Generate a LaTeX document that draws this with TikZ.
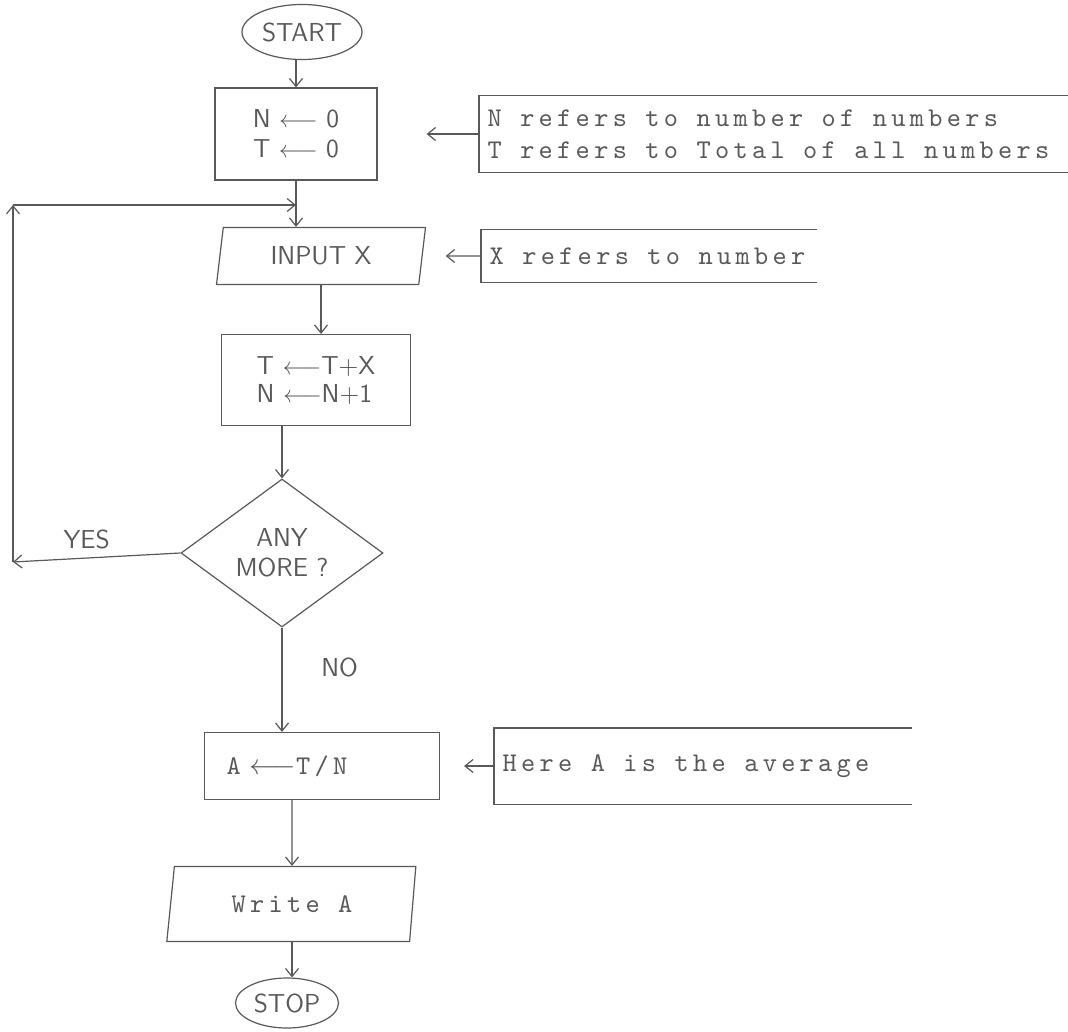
\documentclass[tikz,border=0pt]{standalone}
\usepackage{fontspec}
\usepackage{tikz}
\usetikzlibrary{shapes.geometric}
\usetikzlibrary{arrows.meta}

\newfontfamily\typewriter[LetterSpace=16]{lmmono10-regular.otf}
\definecolor{ink}{gray}{0.35}

\tikzset{
  arr/.style={-{Straight Barb[length=4pt,width=6.5pt]}},
  lettering/.style={font=\sffamily\fontsize{13}{15}\selectfont},
  typed/.style={font=\typewriter\fontsize{13.5}{16}\selectfont},
  terminal/.style={draw, ellipse, lettering, inner sep=0pt},
  process/.style={draw, rectangle, inner sep=0pt},
  decision/.style={draw, diamond, lettering, inner sep=0pt, align=center},
  io/.style={draw, trapezium, trapezium stretches body, inner sep=0pt},
  note/.style={typed, anchor=west, align=left, inner sep=4pt},
}

\begin{document}
\begin{tikzpicture}[x=0.5pt, y=-0.5pt, color=ink, line width=0.6pt]
\path[fill=white] (0,0) rectangle (1068,1031);
\useasboundingbox (0,0) rectangle (1068,1031);

% main column
\node[terminal, minimum width=60pt, minimum height=27.5pt] (start) at (302,32) {START};
\node[process, lettering, minimum width=81pt, minimum height=46pt, align=center] (init) at (296,134) {N $\longleftarrow$ 0\\T $\longleftarrow$ 0};
\node[io, lettering, trapezium left angle=70, trapezium right angle=110, minimum width=104.5pt, minimum height=28.5pt] (input) at (321,256) {INPUT X};
\node[process, font=\sffamily\fontsize{13}{14}\selectfont, minimum width=94.5pt, minimum height=45.5pt, align=left] (accum) at (316,380) {T $\longleftarrow$T+X\\N $\longleftarrow$N+1};
\node[decision, minimum width=101pt, minimum height=74pt] (test) at (282,553) {ANY\\MORE ?};
\node[process, typed, minimum height=33.5pt, inner xsep=11pt, text width=95.5pt, align=left] (avg) at (322,766) {A $\longleftarrow$T/N};
\node[io, typed, trapezium left angle=66, trapezium right angle=110, minimum width=124.5pt, minimum height=37.5pt] (output) at (292,904) {Write A};
\node[terminal, minimum width=51.5pt, minimum height=25pt] (stop) at (287,1003) {STOP};

% side notes, open on the right
\node[note, minimum height=38pt] (note1) at (479,134) {N refers to number of numbers\\T refers to Total of all numbers};
\draw (note1.north west) ++(589,0) -- (note1.north west) -- (note1.south west) -- ++(589,0);
\node[note, minimum height=26pt] (note2) at (481,256) {X refers to number};
\draw (note2.north west) ++(336,0) -- (note2.north west) -- (note2.south west) -- ++(336,0);
\node[note, minimum height=37.5pt] (note3) at (494,766) {Here A is the average};
\draw (note3.north west) ++(418,0) -- (note3.north west) -- (note3.south west) -- ++(418,0);

\draw[arr, shorten >=24.5pt] (note1) -- (init);
\draw[arr, shorten >=11.5pt] (note2) -- (input);
\draw[arr, shorten >=12pt] (note3) -- (avg);

% flow
\draw[arr] (init.north |- start.south) -- (init.north);
\draw[arr] (init.south) -- (init.south |- input.north);
\draw[arr] (input.south) -- (input.south |- accum.north);
\draw[arr] (test.north |- accum.south) -- (test.north);
\draw[arr] (test.south) -- (test.south |- avg.north) node[pos=0.38, right=16pt, lettering] {NO};
\draw[arr] (output |- avg.south) -- (output.north);
\draw[arr] (output.south) -- (output.south |- stop.north);

% loop back
\coordinate (loopbot) at (13,562);
\coordinate (looptop) at (13,205);
\draw[arr] (test.west) -- (loopbot) node[pos=0.56, above=1pt, lettering] {YES};
\draw[arr] (loopbot) -- (looptop);
\draw[arr] (looptop) -- (looptop -| init.south);
\end{tikzpicture}
\end{document}
